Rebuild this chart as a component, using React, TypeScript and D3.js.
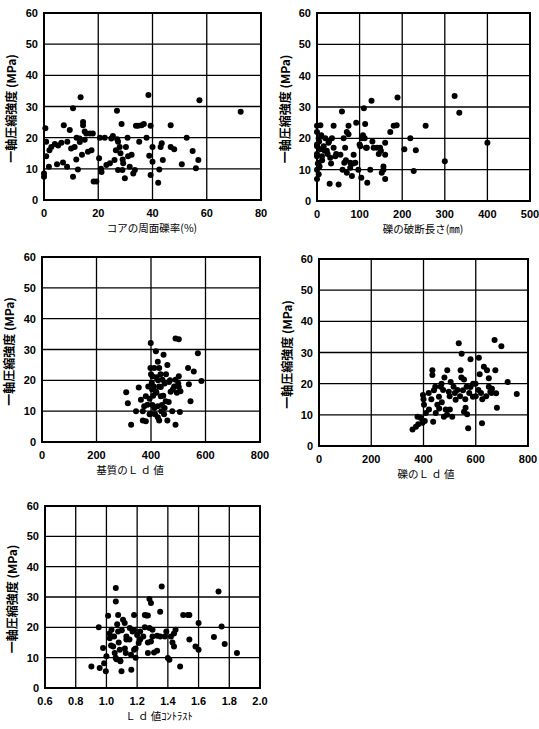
import { useRef, useEffect } from 'react';
import * as d3 from 'd3';

// strength (MPa) vs. core gravel ratio (%)
const gravelRatio: [number, number][] = [
  [0.5, 23], [0, 8.5], [0, 7.5], [0.8, 14], [0.8, 18.7], [1.8, 10.7], [2.7, 17], [4, 18],
  [5.2, 17.5], [6.4, 18.4], [7.3, 24], [4.8, 11.5], [7, 12], [8.6, 18.7], [9.5, 22.5], [10, 16.5],
  [10.7, 29.4], [10.7, 7.5], [11.3, 17], [11.9, 13], [12.5, 9.8], [13.2, 18.6], [13.5, 33], [14, 14.5],
  [14.4, 24], [14.4, 25], [15, 19.3], [15.6, 21.3], [16.2, 15.5], [16.9, 21.3], [17.5, 16], [18, 21.3],
  [18.3, 5.9], [19.3, 5.9], [20.3, 13.4], [20.6, 20], [21.2, 9], [22.4, 20], [23, 11.2], [24.3, 11.8],
  [24.8, 19.7], [25.4, 20.5], [26, 12.8], [26.9, 28.6], [27.3, 18.7], [27.3, 9.6], [27.9, 17], [28.2, 15],
  [28.6, 24.4], [28.9, 9.6], [29.2, 11.8], [29.8, 7], [30.2, 17], [30.8, 20], [31, 14], [31.6, 10.7],
  [32.3, 14.5], [32.9, 8.5], [33.5, 9.6], [33.9, 23.8], [34.7, 23.8], [35.1, 18.7], [36, 24], [36.8, 24.4],
  [37.8, 20], [38.5, 33.7], [38.8, 14.2], [39.3, 23.8], [39.3, 8], [40, 17], [40, 12.3], [42.1, 5.5],
  [42.5, 9.8], [43, 17], [43.4, 18.2], [43.8, 12.8], [46.7, 24], [46.7, 17], [48, 16.3], [50.8, 11.5],
  [52.6, 20], [54.8, 15.7], [56, 10.2], [56.9, 12.8], [57.3, 32], [72.5, 28.3], [13.1, 19.7], [8.5, 10.7],
  [2, 16], [26.5, 16], [29, 13], [21, 10], [12, 20], [15, 22], [27, 19.5]
];

// strength vs. gravel fracture length (mm)
const fractureLength: [number, number][] = [
  [0, 24], [8, 24.2], [0, 22], [4, 20], [0, 17.5], [8, 16.5], [0, 14.3], [4, 12.2], [0, 10], [4, 8.5],
  [0, 7], [11.7, 14.3], [15.6, 17.5], [19.5, 20], [23, 16], [27, 18.6], [31, 13.8], [29.7, 5.5], [39, 24],
  [35, 20], [39, 17], [43, 14.3], [50.8, 5.3], [55, 14.8], [58.6, 28.6], [62.5, 20], [64, 12.2], [66, 17],
  [70, 9], [74, 24], [74, 21.3], [78, 12.2], [78, 10.6], [82, 8], [86, 14.8], [90, 12.2], [92, 25],
  [97, 10], [101.5, 17.5], [104, 7.4], [108, 21], [110, 29.6], [112, 20], [113, 24.6], [117, 17], [118, 5.8],
  [125, 10], [128, 32], [133, 17], [141, 17], [148, 17], [152, 9], [156, 10], [160, 18.6], [160, 14.8],
  [160, 7], [156, 11], [172, 22], [180, 24], [187, 24.2], [189, 33], [205, 16.5], [219, 20], [227, 9.6],
  [232, 16.2], [255, 24], [300, 12.7], [323, 33.5], [334, 28.2], [400, 18.6],
  [0, 18], [0, 15], [5, 19], [10, 21], [2, 12], [6, 11], [12, 13], [18, 16], [25, 15], [28, 19], [33, 12],
  [45, 15], [60, 10], [68, 13], [70, 22], [85, 12], [100, 18], [105, 20], [115, 17], [130, 19], [145, 15],
  [150, 16]
];

// strength vs. matrix Ld value
const matrixLd: [number, number][] = [
  [309, 16.1], [315, 12.6], [327, 5.6], [355, 17.7], [345, 10], [363, 13.7], [375, 11.6], [381, 14.8],
  [387, 12.1], [399, 9.2], [381, 6.7], [399, 32.1], [405, 21.3], [403, 19.2], [412, 24], [418, 29.4],
  [418, 16.5], [424, 11.6], [430, 24], [436, 17.8], [436, 14.8], [442, 20.2], [446, 28.3], [450, 11],
  [454, 13.2], [460, 25], [466, 19.5], [472, 16.3], [478, 10], [490, 33.6], [502, 33.3], [490, 20.2],
  [490, 5.6], [502, 17.8], [502, 21.3], [506, 9.7], [508, 16.5], [536, 24], [539, 18.7], [545, 13.2],
  [557, 22.9], [572, 28.8], [585, 19.8],
  [400, 22], [410, 18], [420, 16], [395, 14], [405, 12], [415, 9], [425, 8], [430, 7], [440, 12],
  [445, 15], [450, 19], [420, 21], [430, 18], [408, 15], [412, 11], [448, 9], [455, 22], [435, 22],
  [395, 9], [370, 10], [390, 18], [425, 26], [480, 17], [495, 16], [500, 19], [370, 7], [460, 7], [465, 13],
  [398, 24], [404, 17], [426, 20], [438, 10], [470, 20], [485, 18]
];

// strength vs. gravel Ld value
const gravelLd: [number, number][] = [
  [358, 5.3], [371, 6.2], [377, 9.4], [396, 7.5], [398, 16.4], [402, 13.2], [409, 10.6], [421, 11.7],
  [434, 24.3], [434, 22.8], [437, 7.8], [440, 17.9], [447, 10.6], [453, 13.2], [459, 15.8], [466, 19],
  [469, 20], [478, 9.4], [485, 11.7], [491, 24.3], [497, 17.4], [501, 11.7], [504, 20.5], [510, 9.4],
  [523, 14.8], [535, 33], [542, 24.3], [546, 29.6], [551, 17.9], [555, 21.3], [561, 12.3], [567, 10.2],
  [571, 5.7], [580, 27.8], [580, 18.9], [589, 15.8], [599, 20], [612, 28.3], [624, 7.3], [631, 25.4],
  [643, 24.3], [650, 21.7], [656, 17.4], [662, 18.4], [672, 34], [675, 24.3], [678, 16.9], [681, 12.3],
  [698, 32], [722, 20.5], [757, 16.7],
  [420, 17], [430, 15], [445, 19], [460, 12], [470, 14], [475, 18], [480, 22], [490, 10], [500, 16],
  [515, 19], [520, 17], [530, 18], [540, 16], [560, 15], [565, 19], [575, 17], [590, 20], [600, 16],
  [610, 18], [620, 17], [625, 15], [640, 16], [650, 19], [660, 17], [615, 23], [545, 22], [555, 11],
  [380, 7], [390, 9], [400, 15], [405, 8]
];

// strength vs. Ld contrast
const ldContrast: [number, number][] = [
  [0.902, 7.1], [0.95, 20], [0.956, 6.6], [0.978, 13.2], [0.985, 8.2], [0.996, 5.5], [1.0, 10.5],
  [1.011, 23.8], [1.022, 16.4], [1.033, 19.2], [1.044, 13.7], [1.054, 11.5], [1.061, 33], [1.061, 28.5],
  [1.065, 9.5], [1.076, 24.1], [1.076, 18.6], [1.087, 12.6], [1.091, 8.8], [1.098, 5.5], [1.108, 22.5],
  [1.119, 21.4], [1.126, 11.5], [1.13, 16], [1.152, 19.8], [1.162, 6], [1.17, 18.6], [1.18, 24.1],
  [1.18, 12.6], [1.19, 10], [1.2, 17.5], [1.21, 14.8], [1.22, 18.6], [1.24, 17], [1.25, 24.1],
  [1.26, 23.9], [1.27, 23.9], [1.28, 29.3], [1.29, 28], [1.27, 11.5], [1.28, 19.8], [1.29, 15.3],
  [1.3, 19.2], [1.31, 11.7], [1.33, 12.3], [1.33, 17.2], [1.35, 25.1], [1.36, 33.5], [1.39, 18.6],
  [1.4, 9.9], [1.41, 9.3], [1.42, 17], [1.43, 15], [1.44, 13.7], [1.45, 19.2], [1.48, 7.1], [1.5, 24.1],
  [1.53, 24.1], [1.54, 24.1], [1.54, 16], [1.58, 13.7], [1.6, 12.6], [1.6, 21.4], [1.7, 16.8],
  [1.73, 31.8], [1.75, 20.3], [1.77, 14.5], [1.85, 11.5],
  [1.05, 17], [1.08, 15], [1.1, 19], [1.12, 13], [1.03, 14], [1.06, 10], [1.15, 16], [1.18, 19],
  [1.22, 16], [1.25, 20], [1.3, 17], [1.35, 17], [1.38, 17], [1.02, 18], [1.07, 21], [1.16, 11],
  [1.19, 13], [1.27, 15], [1.44, 18], [1.09, 9], [1.13, 17]
];

const yTicks = [0, 10, 20, 30, 40, 50, 60];
const yTitle = '一軸圧縮強度 (MPa)';

const panels = [
  { data: gravelRatio, xDomain: [0, 80], xTicks: [0, 20, 40, 60, 80], fmt: d3.format('d'),
    title: 'コアの周面礫率(%)', box: [44, 13, 261, 200], titleX: 152, yTitleX: 16 },
  { data: fractureLength, xDomain: [0, 500], xTicks: [0, 100, 200, 300, 400, 500], fmt: d3.format('d'),
    title: '礫の破断長さ(㎜)', box: [317, 13, 530, 201], titleX: 423, yTitleX: 290 },
  { data: matrixLd, xDomain: [0, 800], xTicks: [0, 200, 400, 600, 800], fmt: d3.format('d'),
    title: '基質のＬ ｄ 値', box: [42, 257, 260, 442], titleX: 130, yTitleX: 14 },
  { data: gravelLd, xDomain: [0, 800], xTicks: [0, 200, 400, 600, 800], fmt: d3.format('d'),
    title: '礫のＬ ｄ 値', box: [319, 259, 528, 446], titleX: 426, yTitleX: 292 },
  { data: ldContrast, xDomain: [0.6, 2.0], xTicks: [0.6, 0.8, 1.0, 1.2, 1.4, 1.6, 1.8, 2.0], fmt: d3.format('.1f'),
    title: 'Ｌ ｄ 値ｺﾝﾄﾗｽﾄ', box: [45, 506, 260, 688], titleX: 159, yTitleX: 17 },
];

const App = () => {
  const ref = useRef<SVGSVGElement>(null);

  useEffect(() => {
    const svg = d3.select(ref.current);
    svg.selectAll('*').remove();

    panels.forEach(p => {
      const [x0, y0, x1, y1] = p.box;
      const x = d3.scaleLinear().domain(p.xDomain).range([x0, x1]);
      const y = d3.scaleLinear().domain([0, 60]).range([y1, y0]);
      const g = svg.append('g');

      // grid
      g.selectAll('.vg').data(p.xTicks).enter().append('line')
        .attr('x1', d => x(d)).attr('x2', d => x(d))
        .attr('y1', y0).attr('y2', y1)
        .attr('stroke', '#000').attr('stroke-width', 1.3);
      g.selectAll('.hg').data(yTicks).enter().append('line')
        .attr('x1', x0).attr('x2', x1)
        .attr('y1', d => y(d)).attr('y2', d => y(d))
        .attr('stroke', '#000').attr('stroke-width', 1.3);

      // frame
      g.append('rect')
        .attr('x', x0).attr('y', y0)
        .attr('width', x1 - x0).attr('height', y1 - y0)
        .attr('fill', 'none').attr('stroke', '#000').attr('stroke-width', 2);

      // points
      g.selectAll('circle').data(p.data).enter().append('circle')
        .attr('cx', d => x(d[0])).attr('cy', d => y(d[1]))
        .attr('r', 3).attr('fill', '#000');

      // tick labels
      g.selectAll('.yl').data(yTicks).enter().append('text')
        .attr('x', x0 - 6).attr('y', d => y(d) + 4)
        .attr('text-anchor', 'end')
        .attr('font-family', 'Liberation Sans, Arial, sans-serif')
        .attr('font-weight', 'bold').attr('font-size', 11)
        .text(d => d);
      g.selectAll('.xl').data(p.xTicks).enter().append('text')
        .attr('x', d => x(d)).attr('y', y1 + 17)
        .attr('text-anchor', 'middle')
        .attr('font-family', 'Liberation Sans, Arial, sans-serif')
        .attr('font-weight', 'bold').attr('font-size', 11)
        .text(d => p.fmt(d));

      // titles
      g.append('text')
        .attr('x', p.titleX).attr('y', y1 + 32)
        .attr('text-anchor', 'middle')
        .attr('font-family', 'Noto Sans CJK JP')
        .attr('font-size', 10.5)
        .text(p.title);
      g.append('text')
        .attr('transform', `translate(${p.yTitleX}, ${(y0 + y1) / 2 + 2}) rotate(-90)`)
        .attr('text-anchor', 'middle')
        .attr('font-family', 'Noto Sans CJK JP')
        .attr('font-size', 12)
        .attr('font-weight', 'bold')
        .text(yTitle);
    });
  }, []);

  return (
    <svg ref={ref} width={539} height={729}
      style={{ position: 'absolute', left: 0, top: 0, background: '#fff' }}></svg>
  );
};

export default App;
